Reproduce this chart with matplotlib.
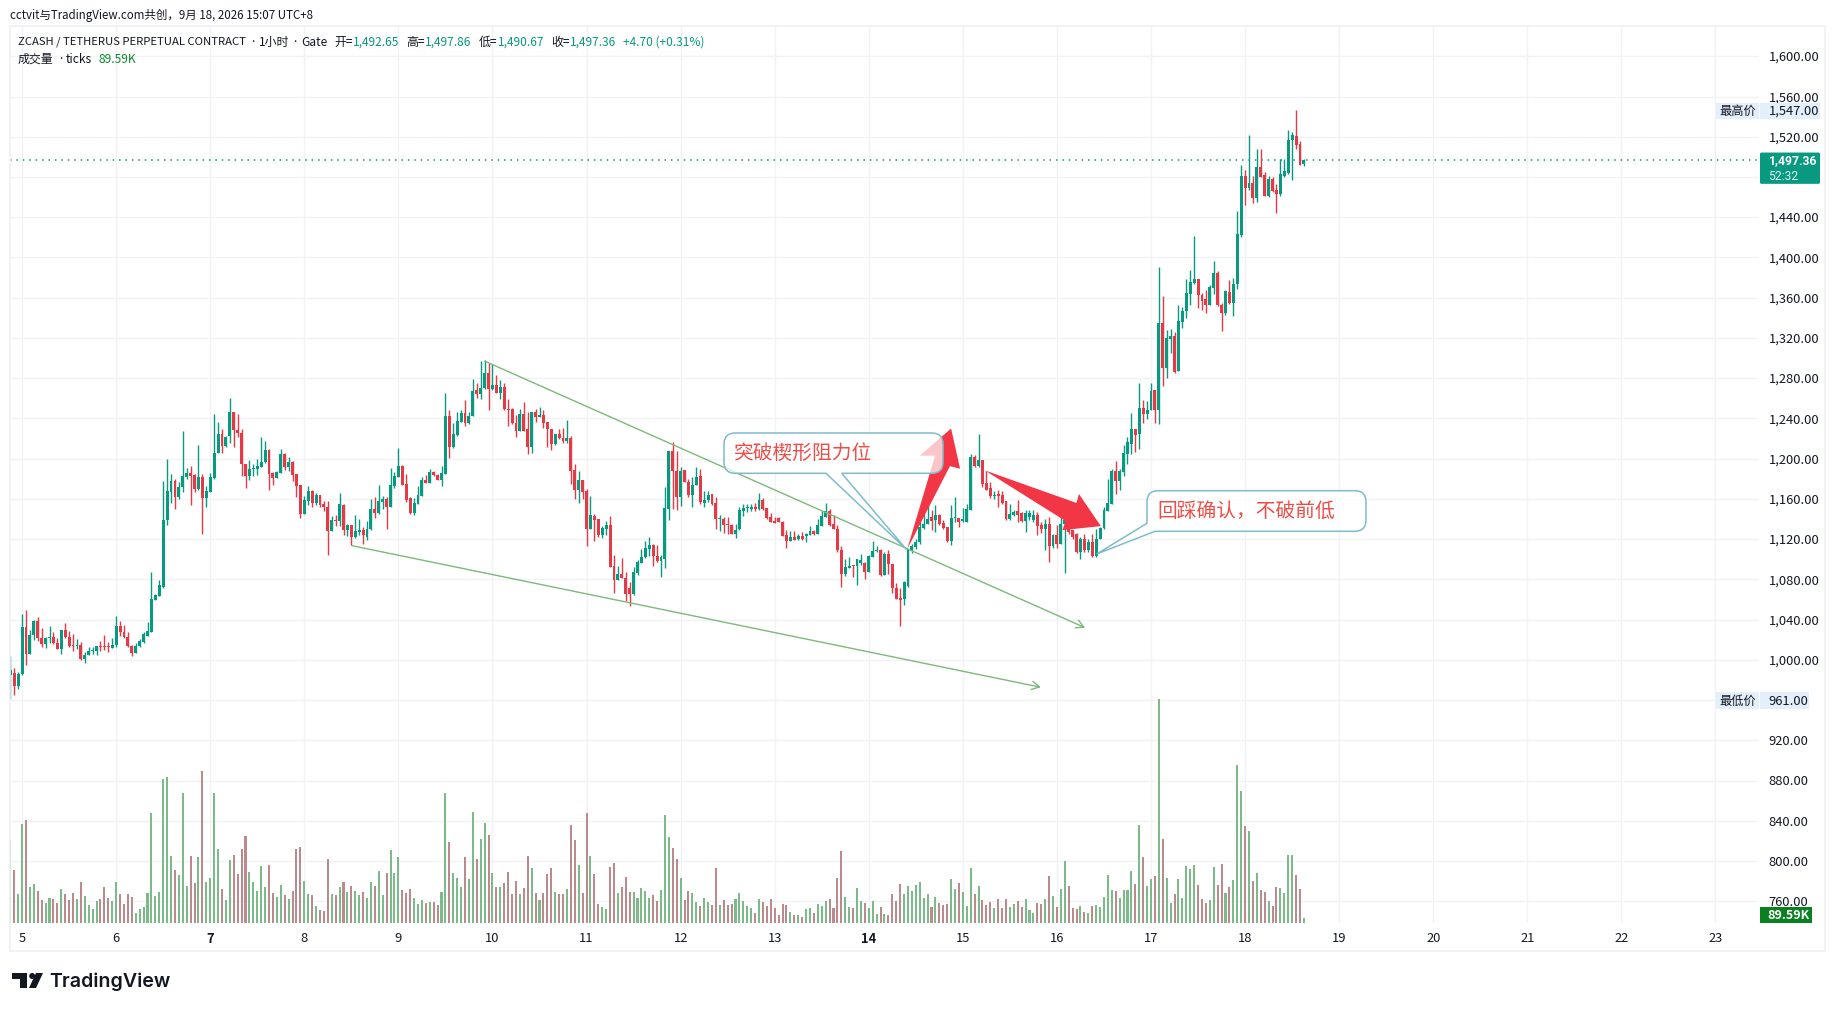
import numpy as np
import matplotlib
matplotlib.use('Agg')
import matplotlib.pyplot as plt
from matplotlib.path import Path
from matplotlib.patches import PathPatch, Polygon, Rectangle, FancyBboxPatch, Circle
from matplotlib.transforms import ScaledTranslation

plt.rcParams['font.family'] = ['Noto Sans CJK SC', 'DejaVu Sans']

W, H = 1835, 1012
GREEN = '#089981'
RED = '#e63946'
VOL_GREEN = '#7dba8a'
VOL_RED = '#ba8a8c'
GRID = '#f0f2f6'
TEXT = '#131722'
TREND = '#7cb97a'
CALLOUT = '#7fbccb'
CALLOUT_TEXT = '#ee4d47'

# hourly candles
opens = [
    985, 987, 974, 986, 1033, 1006, 1025, 1039, 1022, 1016,
    1022, 1023, 1017, 1011, 1030, 1023, 1014.5, 1014, 1015, 1001,
    1005, 1009, 1009, 1014, 1013.5, 1013.5, 1012, 1015, 1034, 1028,
    1023, 1014, 1007, 1014, 1018, 1024, 1028, 1060, 1064, 1072,
    1139, 1167, 1178, 1162, 1172, 1182, 1186, 1184, 1170, 1182,
    1161, 1167, 1181, 1206, 1225, 1213, 1223, 1246, 1229, 1226,
    1195, 1183, 1190, 1190, 1192, 1197, 1209, 1186, 1181, 1186,
    1205, 1192, 1197, 1185, 1174, 1145, 1158, 1168, 1156, 1164,
    1155, 1152, 1128, 1139, 1138, 1154, 1129, 1134, 1122, 1127,
    1129, 1122, 1130, 1150, 1146, 1157, 1160, 1152, 1173, 1182,
    1193, 1175, 1161, 1146, 1155, 1163, 1179, 1176, 1187, 1184,
    1179, 1185, 1242, 1212, 1224, 1236, 1245, 1235, 1242, 1268,
    1264, 1270, 1285, 1269, 1273, 1265, 1271, 1249, 1249, 1235,
    1228, 1244, 1230, 1212, 1246, 1241, 1243, 1236, 1230, 1215,
    1225, 1221, 1218, 1221, 1189, 1169, 1179, 1168, 1130, 1143,
    1140, 1124, 1130, 1134, 1093, 1079, 1085, 1081, 1071, 1066,
    1086, 1096, 1102, 1110, 1114, 1103, 1098, 1100, 1150, 1208,
    1188, 1162, 1189, 1177, 1164, 1174, 1183, 1156, 1159, 1165,
    1156, 1140, 1140, 1134.5, 1134, 1125, 1130, 1148, 1151, 1150,
    1152, 1150, 1159, 1151, 1142, 1138, 1141, 1137, 1124, 1118,
    1122, 1120, 1123, 1123, 1124, 1128, 1125, 1133, 1142, 1148,
    1135, 1130, 1109, 1085, 1091, 1093.5, 1093, 1096, 1096, 1087,
    1102, 1108, 1109, 1084, 1105, 1095, 1071, 1062, 1061, 1073,
    1108, 1112, 1117, 1131, 1135, 1142, 1139, 1144, 1136, 1132,
    1118, 1141, 1141, 1138, 1137, 1149, 1202, 1193, 1199, 1176,
    1171, 1163, 1165, 1164, 1158, 1140, 1144, 1148, 1146, 1138,
    1142, 1139, 1144, 1134, 1130, 1135, 1113, 1124, 1115, 1135,
    1137, 1129, 1125, 1107, 1120, 1109, 1117, 1103, 1120, 1131,
    1148, 1155, 1188, 1178, 1187, 1205, 1215, 1230, 1225, 1250,
    1244, 1248, 1268, 1248, 1335, 1290, 1319, 1322, 1287, 1336,
    1347, 1364, 1375, 1379, 1363, 1359, 1353, 1370, 1385, 1353,
    1345, 1366, 1355, 1374, 1422, 1481, 1469, 1474, 1459, 1490,
    1482, 1461, 1478, 1467, 1463, 1481, 1484, 1517, 1521, 1513,
    1492.65,
]
highs = [
    1004, 992, 988, 1046, 1050, 1030, 1040, 1043, 1032, 1023,
    1034, 1028, 1022, 1030, 1037, 1029, 1026, 1021, 1018, 1008,
    1013, 1013, 1014, 1019, 1025, 1018, 1022, 1044, 1039, 1035,
    1028, 1015, 1017, 1021, 1028, 1038, 1087, 1066, 1079, 1178,
    1200, 1185, 1180, 1177, 1228, 1191, 1193, 1185, 1214, 1185,
    1173, 1186, 1244, 1236, 1230, 1223, 1260, 1246, 1244, 1230,
    1195, 1199, 1195, 1200, 1222, 1218, 1210, 1187, 1188, 1210,
    1206, 1202, 1198, 1185, 1174, 1163, 1173, 1169, 1166, 1164,
    1158, 1158, 1143, 1144, 1166, 1155, 1135, 1134, 1144, 1140,
    1132, 1138, 1160, 1162, 1174, 1163, 1162, 1191, 1187, 1211,
    1194, 1185, 1162, 1161, 1173, 1182, 1184, 1190, 1188, 1185,
    1193, 1265, 1248, 1235, 1246, 1248, 1258, 1246, 1279, 1275,
    1297, 1298, 1295, 1294, 1283, 1278, 1275, 1259, 1250, 1243,
    1249, 1256, 1246, 1246, 1249, 1251, 1248, 1236, 1230, 1225,
    1230, 1231, 1238, 1223, 1195, 1188, 1179, 1170, 1163, 1145,
    1140, 1133, 1138, 1143, 1104, 1093, 1101, 1087, 1077, 1092,
    1099, 1110, 1118, 1122, 1115, 1114, 1104, 1172, 1208, 1217,
    1208, 1192, 1189, 1180, 1182, 1192, 1190, 1168, 1168, 1165,
    1162, 1144, 1142, 1142, 1135, 1135, 1152, 1155, 1155, 1155,
    1156, 1166, 1161, 1151, 1146, 1142, 1142, 1138, 1129, 1128,
    1128, 1125, 1127, 1126, 1133, 1129, 1140, 1148, 1156, 1150,
    1144, 1134, 1113, 1100, 1102, 1094, 1100, 1105, 1097, 1104,
    1118, 1113, 1110, 1107, 1109, 1095, 1076, 1071, 1078, 1110,
    1115, 1120, 1147, 1146, 1159, 1149, 1154, 1145, 1139, 1132,
    1154, 1162, 1141, 1151, 1155, 1205, 1204, 1225, 1199, 1188,
    1177, 1168, 1169, 1168, 1158, 1155, 1149, 1159, 1147, 1149,
    1149, 1149, 1147, 1137, 1140, 1142, 1125, 1134, 1156, 1149,
    1140, 1129, 1126, 1122, 1125, 1120, 1125, 1130, 1132, 1152,
    1180, 1190, 1198, 1190, 1214, 1222, 1245, 1230, 1275, 1258,
    1257, 1275, 1268, 1391, 1362, 1328, 1329, 1326, 1353, 1351,
    1379, 1388, 1421, 1379, 1365, 1368, 1373, 1397, 1387, 1355,
    1368, 1378, 1380, 1446, 1492, 1487, 1522, 1481, 1508, 1508,
    1485, 1481, 1480, 1473, 1498, 1498, 1527, 1525, 1547, 1516,
    1497.86,
]
lows = [
    961, 965.5, 971, 985, 995, 1006, 1020, 1019, 1013, 1012,
    1017, 1016, 1011, 1006, 1022, 1013, 1009, 1011, 1000, 997,
    1005, 1006, 1005, 1009, 1010, 1008, 1012, 1013, 1024, 1022,
    1013, 1004, 1007, 1013, 1017, 1024, 1028, 1060, 1064, 1071,
    1134, 1156, 1150, 1160, 1167, 1180, 1154, 1167, 1169, 1125,
    1152, 1167, 1180, 1206, 1206, 1212, 1216, 1212, 1222, 1183,
    1171, 1179, 1183, 1184, 1192, 1196, 1169, 1174, 1181, 1186,
    1189, 1188, 1178, 1162, 1141, 1145, 1154, 1152, 1154, 1152,
    1148, 1104.5, 1128, 1133, 1133, 1124, 1123, 1114, 1121, 1124,
    1115, 1119, 1129, 1141, 1145, 1150, 1130, 1152, 1171, 1182,
    1174, 1157, 1145, 1144, 1155, 1163, 1176, 1176, 1183, 1179,
    1173, 1185, 1201, 1211, 1223, 1236, 1233, 1234, 1242, 1260,
    1259, 1269, 1248, 1268, 1265, 1259, 1248, 1233, 1234, 1222,
    1228, 1228, 1205, 1206, 1236, 1241, 1231, 1212, 1209, 1214,
    1220, 1216, 1216, 1175, 1160, 1156, 1160, 1113, 1130, 1118,
    1122, 1121, 1124, 1092, 1067, 1079, 1081, 1059, 1054, 1065,
    1084, 1096, 1101, 1103, 1093, 1097, 1082, 1091, 1139, 1150,
    1149, 1153, 1177, 1162, 1152, 1174, 1155, 1152, 1157, 1154,
    1130, 1128, 1126, 1125, 1125, 1121, 1129, 1143, 1147, 1148,
    1148, 1149, 1149, 1140, 1137, 1136, 1137, 1123, 1111, 1118,
    1119, 1119, 1119, 1117, 1124, 1124, 1125, 1133, 1142, 1133,
    1130, 1107, 1072, 1083, 1091, 1082, 1074, 1094, 1080, 1087,
    1102, 1107, 1083, 1084, 1085, 1067, 1061, 1034, 1055, 1072,
    1106, 1110, 1115, 1130, 1135, 1129, 1127, 1134, 1130, 1117,
    1114, 1137, 1132, 1137, 1137, 1149, 1192, 1192, 1172, 1169,
    1161, 1160, 1152, 1155, 1139, 1139, 1143, 1137, 1137, 1127,
    1139, 1137, 1124, 1126, 1109, 1097, 1111, 1111, 1115, 1086,
    1125, 1120, 1106, 1100, 1107, 1107, 1102, 1102, 1120, 1130,
    1148, 1155, 1165, 1169, 1183, 1195, 1205, 1207, 1210, 1235,
    1239, 1248, 1235, 1234, 1272, 1280, 1305, 1285, 1287, 1330,
    1340, 1353, 1374, 1350, 1348, 1345, 1353, 1364, 1352, 1327,
    1343, 1354, 1342, 1369, 1420, 1452, 1467, 1454, 1455, 1480,
    1461, 1460, 1465, 1444, 1461, 1480, 1483, 1477, 1508, 1492,
    1490.67,
]
closes = [
    990, 974, 986, 1033, 1006, 1025, 1039, 1022, 1016, 1022,
    1023, 1017, 1011, 1030, 1023, 1014, 1014, 1015, 1001, 1005,
    1009, 1010, 1014, 1013, 1013, 1013, 1015, 1034, 1028, 1023,
    1014, 1007, 1014, 1019, 1026, 1029, 1061, 1065, 1074, 1139,
    1168, 1178, 1162, 1172, 1183, 1186, 1183, 1170, 1182, 1161,
    1168, 1182, 1206, 1225, 1213, 1222, 1246, 1229, 1226, 1195,
    1183, 1190, 1191, 1193, 1197, 1209, 1185, 1181, 1187, 1205,
    1192, 1197, 1184, 1173, 1145, 1159, 1168, 1156, 1164, 1154,
    1152, 1128, 1139, 1138, 1155, 1129, 1134, 1122, 1128, 1129,
    1124, 1130, 1150, 1146, 1158, 1160, 1152, 1174, 1183, 1193,
    1174, 1159, 1146, 1156, 1164, 1179, 1176, 1187, 1184, 1179,
    1186, 1242, 1212, 1225, 1237, 1245, 1235, 1242, 1267, 1264,
    1270, 1285, 1269, 1273, 1265, 1271, 1249, 1248, 1235, 1228,
    1244, 1228, 1212, 1246, 1241, 1243, 1235, 1230, 1215, 1225,
    1221, 1218, 1221, 1188, 1169, 1179, 1167, 1130, 1144, 1139,
    1124, 1131, 1134, 1092, 1079, 1085, 1081, 1066, 1066, 1087,
    1097, 1102, 1111, 1114, 1103, 1098, 1102, 1151, 1208, 1188,
    1162, 1188, 1177, 1164, 1174, 1182, 1157, 1159, 1164, 1155,
    1140, 1140, 1134, 1134, 1125, 1129, 1149, 1151, 1152, 1152,
    1150, 1159, 1150, 1141, 1137, 1136, 1137, 1123, 1118, 1122,
    1119, 1123, 1120, 1125, 1128, 1125, 1134, 1143, 1148, 1134,
    1130, 1109, 1085, 1092, 1093, 1093, 1100, 1099, 1087, 1103,
    1108, 1109, 1084, 1105, 1095, 1071, 1061, 1060, 1077, 1110,
    1113, 1117, 1132, 1135, 1140, 1138, 1144, 1135, 1131, 1118,
    1141, 1141, 1137, 1140, 1150, 1202, 1193, 1199, 1175, 1169,
    1163, 1164, 1163, 1156, 1140, 1145, 1147, 1144, 1138, 1146,
    1146, 1144, 1133, 1130, 1135, 1113, 1124, 1115, 1135, 1139,
    1127, 1122, 1107, 1120, 1109, 1117, 1103, 1120, 1131, 1149,
    1156, 1188, 1178, 1188, 1206, 1217, 1230, 1224, 1250, 1244,
    1248, 1267, 1248, 1335, 1290, 1320, 1322, 1286, 1337, 1347,
    1365, 1376, 1379, 1363, 1357, 1353, 1371, 1385, 1353, 1345,
    1367, 1355, 1374, 1423, 1481, 1469, 1474, 1459, 1490, 1480,
    1461, 1478, 1466, 1463, 1483, 1486, 1517, 1522, 1512, 1492,
    1497.36,
]
# volume per candle in units of about 6K (the last bar is the 89.59K one)
volumes = [
    249, 159, 87, 297, 309, 108, 117, 96, 69, 60,
    75, 72, 60, 102, 87, 69, 90, 72, 123, 81,
    54, 42, 66, 72, 108, 75, 66, 123, 87, 57,
    87, 78, 30, 42, 48, 90, 330, 81, 93, 432,
    438, 201, 159, 144, 390, 111, 201, 120, 198, 456,
    123, 135, 390, 222, 102, 69, 189, 204, 147, 222,
    261, 153, 123, 96, 171, 108, 174, 90, 78, 114,
    84, 72, 96, 222, 228, 126, 87, 84, 51, 39,
    36, 192, 87, 84, 108, 123, 93, 111, 96, 84,
    93, 75, 123, 111, 156, 84, 150, 219, 150, 198,
    99, 90, 102, 75, 57, 69, 60, 63, 63, 54,
    93, 390, 243, 150, 135, 108, 198, 132, 333, 192,
    252, 300, 264, 150, 108, 108, 120, 153, 87, 126,
    87, 105, 201, 165, 90, 69, 90, 147, 165, 93,
    87, 87, 102, 294, 249, 174, 90, 330, 201, 147,
    57, 48, 42, 168, 180, 90, 108, 138, 93, 93,
    75, 105, 96, 75, 84, 66, 99, 324, 258, 225,
    192, 135, 69, 96, 90, 63, 50, 76, 62, 53,
    164, 53, 68, 53, 56, 71, 89, 65, 50, 44,
    29, 71, 62, 50, 71, 44, 23, 56, 53, 32,
    23, 23, 17, 41, 44, 29, 56, 50, 65, 71,
    44, 134, 215, 77, 47, 44, 104, 65, 59, 44,
    65, 26, 47, 26, 23, 86, 65, 116, 86, 110,
    95, 113, 122, 74, 86, 47, 77, 59, 53, 56,
    131, 101, 119, 92, 50, 164, 86, 110, 68, 53,
    62, 44, 71, 44, 71, 47, 56, 65, 47, 71,
    38, 29, 59, 56, 71, 140, 80, 47, 101, 185,
    110, 44, 41, 50, 32, 29, 50, 53, 47, 77,
    143, 98, 95, 74, 98, 98, 155, 116, 293, 197,
    110, 131, 140, 671, 251, 134, 59, 86, 131, 74,
    170, 161, 173, 113, 71, 59, 68, 167, 113, 176,
    89, 107, 128, 473, 395, 290, 275, 125, 149, 98,
    92, 65, 50, 107, 104, 89, 203, 203, 143, 101,
    15,
]
day_labels = list(range(5, 24))
day_first_index = 3
price_ticks = list(range(760, 1601, 40))
hidden_tick = 1480  # covered by the last price tag in the picture
last_price = 1497.36
high_price = 1547.00
low_price = 961.00

# wedge lines: start and end as (candle index, price)
upper_wedge = [(121, 1297), (274.2, 1032)]
lower_wedge = [(87.1, 1113.6), (262.9, 972.8)]
# the two red arrows
arrow_up = [(228.8, 1110), (239.7, 1192.6), (242.3, 1190), (240, 1230), (232, 1203), (235.9, 1203)]
arrow_down = [(248.6, 1188.4), (272, 1156), (272.6, 1165), (278.2, 1133), (268.4, 1129), (269.2, 1138)]

fig = plt.figure(figsize=(W / 100, H / 100), dpi=100, facecolor='white')

# pane in pixels
left, right, top, bottom = 10, 1759, 27, 924
ax = fig.add_axes([left / W, 1 - bottom / H, (right - left) / W, (bottom - top) / H])
ax.set_xlim(-0.08, 446.1)
ax.set_ylim(738.5, 1630.1)
ax.set_facecolor('white')
for s in ax.spines.values():
    s.set_visible(False)

# volume first, on its own scale, behind the candles
vol_ax = ax.twinx()
vol_ax.set_ylim(0, 2691)
vol_ax.axis('off')
idx = np.arange(len(closes))
up = np.array(closes) >= np.array(opens)
vol_ax.bar(idx, volumes, width=0.52, color=[VOL_GREEN if u else VOL_RED for u in up], linewidth=0)
vol_ax.set_zorder(1)
ax.set_zorder(2)
ax.patch.set_visible(False)

# grid drawn on the lower axes so it sits behind the bars
day_ticks = [day_first_index + 24 * n for n in range(len(day_labels))]
for t in day_ticks:
    vol_ax.axvline(t, color=GRID, lw=1, zorder=0)
for p in price_ticks:
    vol_ax.axhline((p - 738.5) / (1630.1 - 738.5) * 2691, color=GRID, lw=1, zorder=0)

# candles
colors = [GREEN if u else RED for u in up]
ax.vlines(idx, lows, highs, colors=colors, lw=1.0, zorder=3)
bottoms = np.minimum(opens, closes)
heights = np.maximum(np.abs(np.array(closes) - np.array(opens)), 1.0)
ax.bar(idx, heights, bottom=bottoms, width=0.74, color=colors, linewidth=0, zorder=4)

ax.axhline(last_price, color=GREEN, lw=1.1, ls=(0, (1, 3.2)), zorder=2)

# wedge lines with open arrow heads
for line in (upper_wedge, lower_wedge):
    ax.annotate('', xy=line[1], xytext=line[0], annotation_clip=False, zorder=5,
                arrowprops=dict(arrowstyle='->,head_length=0.55,head_width=0.3', color=TREND,
                                lw=1.0, shrinkA=0, shrinkB=0))

ax.add_patch(Polygon(arrow_up, closed=True, fc='#f23645', ec='none', zorder=6))
ax.add_patch(Polygon(arrow_down, closed=True, fc='#f23645', ec='none', zorder=6))

# axis labels
ax.yaxis.tick_right()
shown_ticks = [p for p in price_ticks if p != hidden_tick]
ax.set_yticks(shown_ticks)
ax.set_yticklabels([f'{p:,.2f}' for p in shown_ticks], fontsize=9.3, color=TEXT)
ax.tick_params(axis='y', length=0, pad=7)
# the CJK font sits a little low, lift the price labels by a pixel
lift = ScaledTranslation(0, 0.012, fig.dpi_scale_trans)
for lab in ax.get_yticklabels():
    lab.set_transform(lab.get_transform() + lift)
ax.set_xticks(day_ticks)
ax.set_xticklabels(day_labels, fontsize=9.3, color=TEXT)
ax.tick_params(axis='x', length=0, pad=6)
for lab, d in zip(ax.get_xticklabels(), day_labels):
    if d in (7, 14):
        lab.set_fontweight('bold')

# overlay in pixel coordinates for the chrome around the chart
ov = fig.add_axes([0, 0, 1, 1], zorder=10)
ov.set_xlim(0, W)
ov.set_ylim(H, 0)
ov.axis('off')
ov.patch.set_visible(False)


def rounded_path(points):
    # points are (x, y, radius), radius 0 keeps a sharp corner
    verts, codes = [], []
    n = len(points)
    for i, (x, y, r) in enumerate(points):
        p = np.array([x, y], dtype=float)
        if r > 0:
            a = np.array(points[i - 1][:2], dtype=float) - p
            b = np.array(points[(i + 1) % n][:2], dtype=float) - p
            start = p + a / np.linalg.norm(a) * r
            end = p + b / np.linalg.norm(b) * r
            verts += [start, p, end]
            codes += [Path.LINETO, Path.CURVE3, Path.CURVE3]
        else:
            verts.append(p)
            codes.append(Path.LINETO)
    codes[0] = Path.MOVETO
    verts.append(verts[0])
    codes.append(Path.CLOSEPOLY)
    return Path(verts, codes)


box1 = [(724, 434, 11), (943, 434, 11), (943, 474.3, 11), (841.7, 474.3, 0),
        (906.7, 550.7, 0), (826, 474.3, 0), (724, 474.3, 11)]
box2 = [(1147, 491.7, 11), (1366, 491.7, 11), (1366, 532.3, 11), (1155, 532.3, 0),
        (1096.7, 555, 0), (1147, 524.3, 0)]
for b in (box1, box2):
    ov.add_patch(PathPatch(rounded_path(b), fc=(1, 1, 1, 0.72), ec=CALLOUT, lw=1.1))
ov.text(734, 453, '突破楔形阻力位', fontsize=14.2, color=CALLOUT_TEXT, va='center', ha='left')
ov.text(1157, 511.5, '回踩确认\uff0c不破前低', fontsize=14.2, color=CALLOUT_TEXT, va='center', ha='left')

# outer frame
ov.add_patch(Rectangle((left, top), 1825 - left, 952 - top, fc='none', ec='#eef0f4', lw=1.2))

# header and legend lines
ov.text(9.5, 15, 'cctvit与TradingView.com共创\uff0c9月 18, 2026 15:07 UTC+8', fontsize=8.3, color=TEXT, va='center')
legend_parts = [(18, 'ZCASH / TETHERUS PERPETUAL CONTRACT', TEXT, 8.15), (259, '1小时', TEXT, 8.6),
                (301.5, 'Gate', TEXT, 8.6),
                (334.5, '开=', TEXT, 8.6), (353, '1,492.65', GREEN, 8.6), (406, '高=', TEXT, 8.6), (425, '1,497.86', GREEN, 8.6),
                (479, '低=', TEXT, 8.6), (498, '1,490.67', GREEN, 8.6), (551, '收=', TEXT, 8.6), (569.6, '1,497.36', GREEN, 8.6),
                (623, '+4.70 (+0.31%)', GREEN, 8.6)]
for x, s, c, fs in legend_parts:
    ov.text(x, 42, s, fontsize=fs, color=c, va='center')
ov.text(18, 59, '成交量', fontsize=8.6, color=TEXT, va='center')
ov.text(66, 59, 'ticks', fontsize=8.6, color=TEXT, va='center')
ov.text(98, 59, '89.59K', fontsize=8.6, color='#0b8a2a', va='center')
# separator dots in a narrow latin font
for x, y0 in ((251, 42), (293.5, 42), (59, 59)):
    ov.text(x, y0, '\u00b7', fontsize=8.6, color=TEXT, va='center', family=['Noto Sans', 'DejaVu Sans'])


def price_y(p):
    # price to overlay pixel row
    return ax.transData.transform((0, p))[1] * -1 + H


# high / low / last price tags
tag = '#e3effb'
for label, value, w2 in (('最高价', high_price, 60), ('最低价', low_price, 49)):
    y = price_y(value) + 1
    ov.add_patch(Rectangle((1716, y - 8), 43, 16.5, fc=tag, ec='none'))
    ov.add_patch(Rectangle((1760, y - 8), w2, 16.5, fc=tag, ec='none'))
    ov.text(1737.5, y, label, fontsize=8.8, color=TEXT, ha='center', va='center')
    ov.text(1768.5, y, f'{value:,.2f}', fontsize=9.3, color=TEXT, va='center')

y = price_y(last_price) + 1
ov.add_patch(FancyBboxPatch((1760, y - 8), 60, 31.3, boxstyle='round,pad=0,rounding_size=1.5', fc=GREEN, ec='none'))
ov.text(1768, y - 0.5, f'{last_price:,.2f}', fontsize=8.7, color='white', va='center', fontweight='bold', family=['Roboto', 'DejaVu Sans'])
ov.text(1768, y + 14.5, '52:32', fontsize=8.7, color='#dff3ef', va='center', family=['Roboto', 'DejaVu Sans'])

ov.add_patch(Rectangle((1760, 908.3), 51.7, 15.4, fc='#0a8020', ec='none'))
ov.text(1767.5, 916, '89.59K', fontsize=9, color='white', va='center', fontweight='bold')

# TradingView logo
ov.add_patch(Polygon([(12, 974), (27, 974), (27, 989), (20, 989), (20, 980), (12, 980)], fc='#131722', ec='none'))
ov.add_patch(Circle((32.2, 977), 3, fc='#131722', ec='none'))
ov.add_patch(Polygon([(36, 974), (43, 974), (36, 989), (29, 989)], fc='#131722', ec='none'))
ov.text(49, 981.5, 'TradingView', fontsize=14.1, color='#131722', va='center', family=['Inter', 'DejaVu Sans'], fontweight='semibold')

fig.savefig('out.png', dpi=100)
